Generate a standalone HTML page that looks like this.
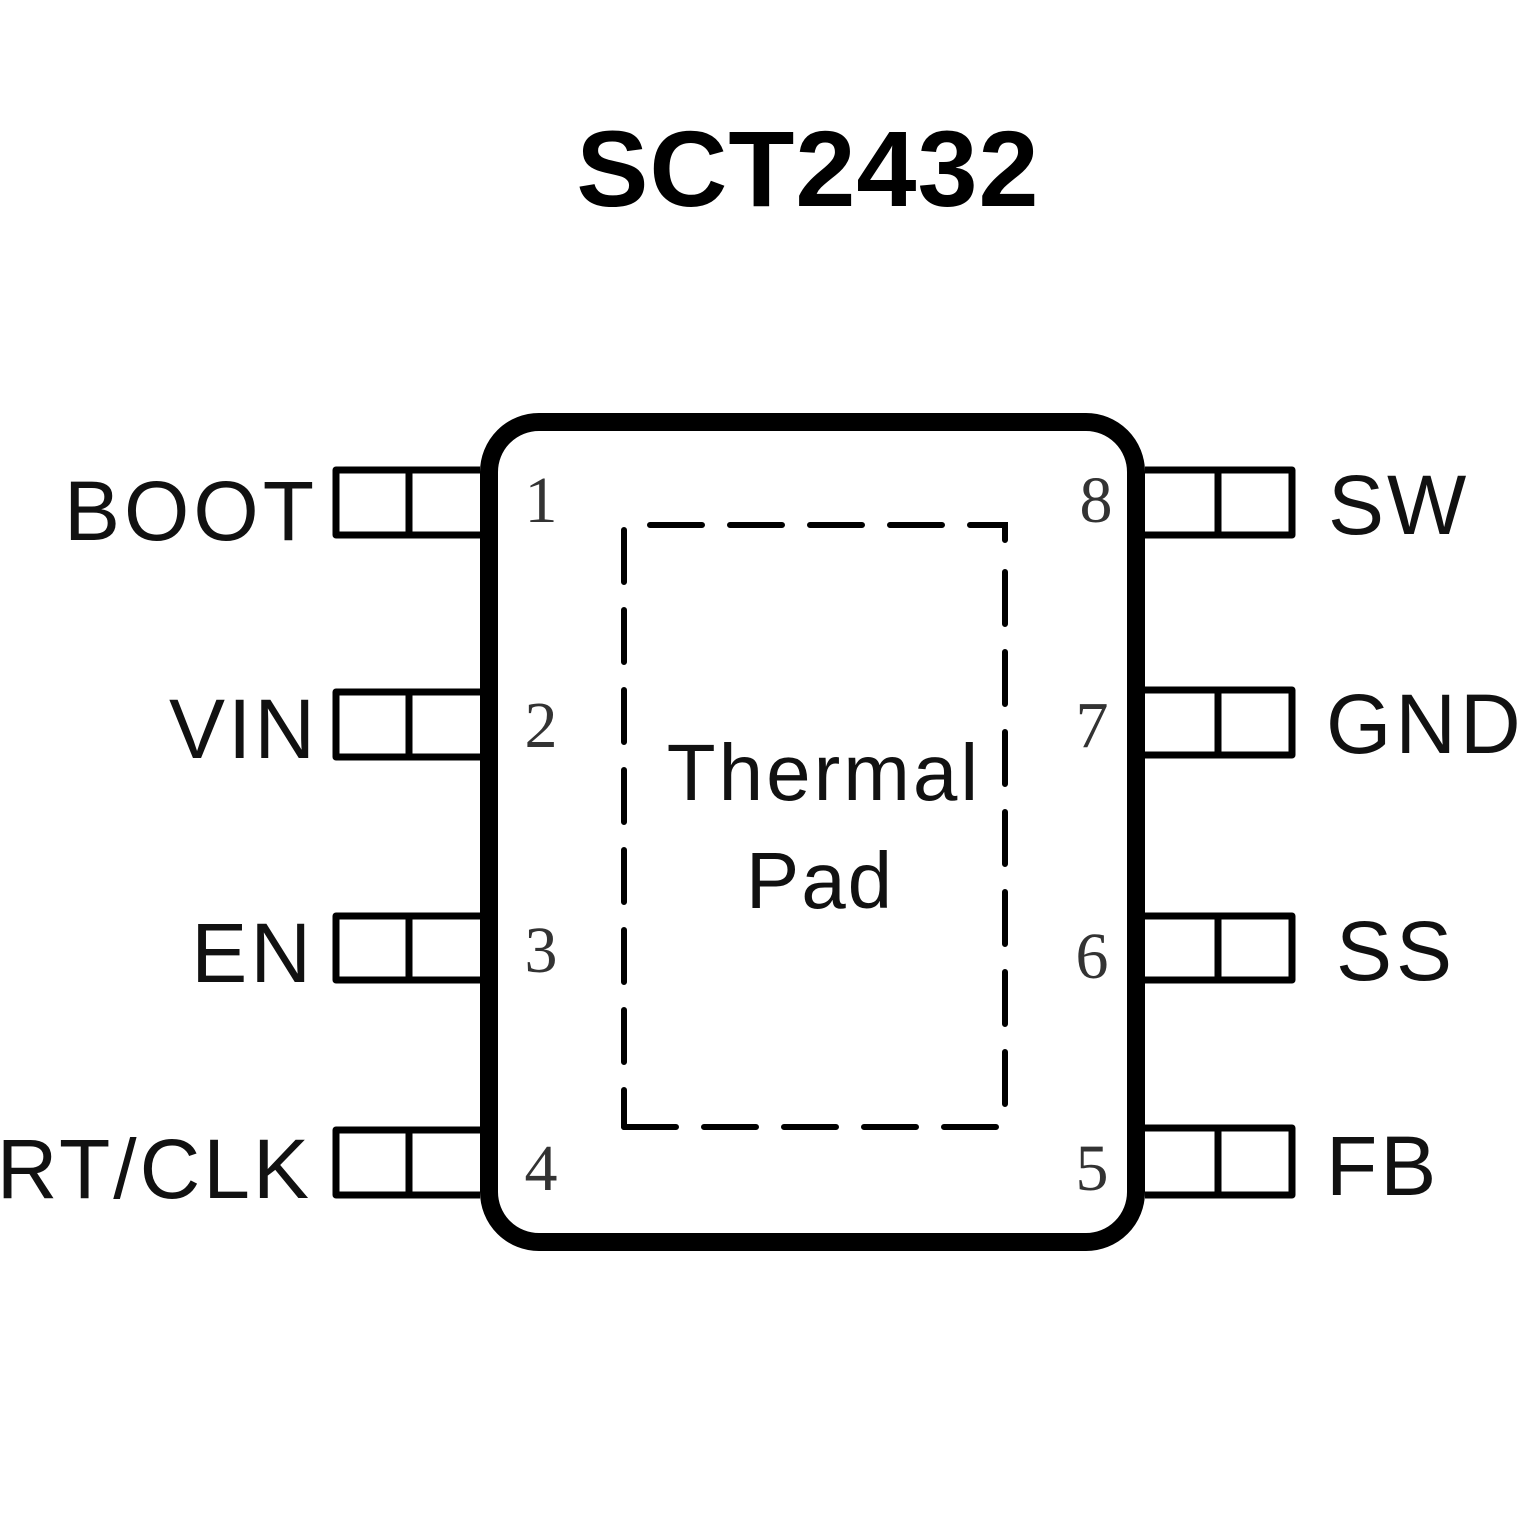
<!DOCTYPE html>
<html><head><style>html,body{margin:0;padding:0;background:#fff}</style></head>
<body>
<svg width="1535" height="1535" viewBox="0 0 1535 1535" xmlns="http://www.w3.org/2000/svg">
<text x="808" y="206" text-anchor="middle" font-family="Liberation Sans, sans-serif" font-weight="bold" font-size="108" letter-spacing="1">SCT2432</text>
<rect x="489" y="422" width="647" height="820" rx="50" ry="50" fill="none" stroke="#000" stroke-width="18"/>
<g fill="none" stroke="#000" stroke-width="7" stroke-linejoin="round">
<path d="M480 470 H336 V535 H480 M409 470 V535"/>
<path d="M480 692 H336 V757 H480 M409 692 V757"/>
<path d="M480 916 H336 V980 H480 M409 916 V980"/>
<path d="M480 1130 H336 V1195 H480 M409 1130 V1195"/>
<path d="M1145 470 H1292 V535 H1145 M1218 470 V535"/>
<path d="M1145 690 H1292 V755 H1145 M1218 690 V755"/>
<path d="M1145 916 H1292 V980 H1145 M1218 916 V980"/>
<path d="M1145 1128 H1292 V1195 H1145 M1218 1128 V1195"/>
</g>
<g stroke="#000" stroke-width="6" stroke-linecap="round" fill="none">
<line x1="650" y1="525" x2="1004" y2="525" stroke-dasharray="52 28"/>
<path d="M980 525 H1005 V540"/>
<line x1="1005" y1="572" x2="1005" y2="1110" stroke-dasharray="52 28"/>
<line x1="624" y1="530" x2="624" y2="1127" stroke-dasharray="52 28"/>
<line x1="624" y1="1127" x2="1005" y2="1127" stroke-dasharray="52 28"/>
</g>
<g font-family="Liberation Sans, sans-serif" font-size="84" fill="#111">
<text x="318" y="540" text-anchor="end" letter-spacing="4">BOOT</text>
<text x="318" y="758" text-anchor="end" letter-spacing="3">VIN</text>
<text x="314" y="982" text-anchor="end" letter-spacing="3">EN</text>
<text x="312" y="1198" text-anchor="end" letter-spacing="3">RT/CLK</text>
<text x="1328" y="534" letter-spacing="3">SW</text>
<text x="1326" y="753" letter-spacing="4">GND</text>
<text x="1336" y="980" letter-spacing="4">SS</text>
<text x="1326" y="1195" letter-spacing="3">FB</text>
<text x="824" y="800" text-anchor="middle" font-size="80" letter-spacing="3">Thermal</text>
<text x="820" y="908" text-anchor="middle" font-size="80" letter-spacing="2">Pad</text>
</g>
<g font-family="Liberation Serif, serif" font-size="66" fill="#333" text-anchor="middle">
<text x="541" y="522">1</text>
<text x="541" y="747">2</text>
<text x="541" y="972">3</text>
<text x="541" y="1190">4</text>
<text x="1096" y="522">8</text>
<text x="1092" y="747">7</text>
<text x="1092" y="978">6</text>
<text x="1092" y="1190">5</text>
</g>
</svg>
</body></html>
